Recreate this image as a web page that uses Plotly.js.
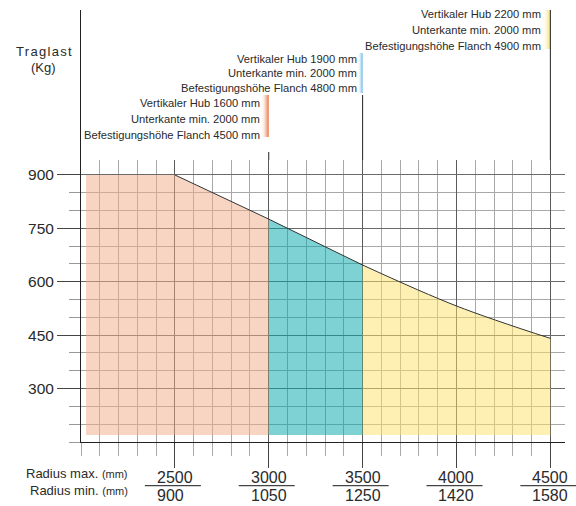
<!DOCTYPE html>
<html><head><meta charset="utf-8">
<script src="https://cdn.plot.ly/plotly-3.0.1.min.js"></script>
<style>html,body{margin:0;padding:0;background:#fff}#chart{width:576px;height:506px}</style>
</head><body><div id="chart"></div>
<script>
// ---- data ----
const radiusMax = [2500, 3000, 3500, 4000, 4500];
const radiusMin = [900, 1050, 1250, 1420, 1580];
const loadX = [2500, 3000, 3500, 4000, 4500];
const loadY = [900, 776, 647, 532, 441];
const flatLoad = 900;
const yTickVals = [300, 450, 600, 750, 900];
const zoneEdges = [3000, 3500, 4500];
const zoneHub = [1600, 1900, 2200];
const zoneUnterkante = [2000, 2000, 2000];
const zoneFlansch = [4500, 4800, 4900];

// ---- styling / layout constants ----
const W = 576, H = 506;
const FONT = 'Liberation Sans, Arial, Helvetica, sans-serif';
const TXT = '#2a2a2a';
const plotL = 81, plotR = 565, plotTop = 160, plotBot = 442, topAreaTop = 10;
const xRange = [2000, 4578];
const yRange = [150, 942];
const pxPerMm = (plotR - plotL) / (xRange[1] - xRange[0]);
const mm = px => px / pxPerMm;
const fillStart = xRange[0] + mm(5);
const fillBase = 170;
const zoneFill = ['rgba(241,171,135,0.5)', 'rgba(0,165,169,0.5)', 'rgba(251,225,101,0.5)'];
const barColor = ['#e8703f', '#62b3e4', '#f5dc6c'];
const barWidthPx = [8, 5, 8.5];
const barBottom = [23, 67, 111];
const barTop = [65, 107, 150];
const leaderTop = [8, 65, 150];
const textTop = [57.5, 101.5, 145.5];
const textStep = [16, 14.5, 15.75];

const xDomain = [plotL / W, plotR / W];
const yDomain = [(H - plotBot) / H, (H - plotTop) / H];
const y2Domain = [(H - plotTop) / H, (H - topAreaTop) / H];
const y3Domain = [0, (H - plotBot) / H];
const x2Range = [xRange[0] - mm(plotL), xRange[0] + mm(W - plotL)];

const traces = [];
// zones 1 and 2 (straight segments) as polygons
const starts = [fillStart, zoneEdges[0]];
for (let i = 0; i < 2; i++) {
  const lo = starts[i], hi = zoneEdges[i];
  const xs = [lo], ys = [fillBase];
  if (lo < loadX[0]) { xs.push(lo); ys.push(flatLoad); }
  loadX.forEach((x, k) => { if (x >= lo && x <= hi) { xs.push(x); ys.push(loadY[k]); } });
  xs.push(hi); ys.push(fillBase);
  traces.push({type: 'scatter', mode: 'lines', x: xs, y: ys, fill: 'toself',
    fillcolor: zoneFill[i], line: {width: 0}, hoverinfo: 'skip', xaxis: 'x', yaxis: 'y'});
}
// zone 3 (curved top) : base line + smooth curve filled to it
const z3x = [], z3y = [];
loadX.forEach((x, k) => { if (x >= zoneEdges[1] && x <= zoneEdges[2]) { z3x.push(x); z3y.push(loadY[k]); } });
traces.push({type: 'scatter', mode: 'lines', x: [zoneEdges[1], zoneEdges[2]], y: [fillBase, fillBase],
  line: {width: 0}, hoverinfo: 'skip', xaxis: 'x', yaxis: 'y'});
traces.push({type: 'scatter', mode: 'lines', x: z3x, y: z3y, fill: 'tonexty', fillcolor: zoneFill[2],
  line: {color: '#333', width: 1, shape: 'spline', smoothing: 1}, hoverinfo: 'skip', xaxis: 'x', yaxis: 'y'});
// straight part of load curve
const c1x = [], c1y = [];
loadX.forEach((x, k) => { if (x <= zoneEdges[1]) { c1x.push(x); c1y.push(loadY[k]); } });
traces.push({type: 'scatter', mode: 'lines', x: c1x, y: c1y,
  line: {color: '#333', width: 1}, hoverinfo: 'skip', xaxis: 'x', yaxis: 'y'});

// top area: gradient bars & leader lines
const annotations = [];
for (let i = 0; i < 3; i++) {
  const e = zoneEdges[i], w = mm(barWidthPx[i]);
  traces.push({type: 'scatter', mode: 'lines', x: [e - w, e, e, e - w, e - w],
    y: [barBottom[i], barBottom[i], barTop[i], barTop[i], barBottom[i]], fill: 'toself',
    fillgradient: {type: 'horizontal', colorscale: [[0, 'rgba(255,255,255,0)'], [1, barColor[i]]]},
    line: {width: 0}, hoverinfo: 'skip', xaxis: 'x3', yaxis: 'y2'});
  traces.push({type: 'scatter', mode: 'lines', x: [e, e], y: [0, leaderTop[i]],
    line: {color: '#222', width: 1}, hoverinfo: 'skip', xaxis: 'x3', yaxis: 'y2'});
  const lines = ['Vertikaler Hub ' + zoneHub[i] + ' mm',
                 'Unterkante min. ' + zoneUnterkante[i] + ' mm',
                 'Befestigungshöhe Flanch ' + zoneFlansch[i] + ' mm'];
  lines.forEach((t, k) => annotations.push({text: t, x: e - w, xref: 'x3', y: textTop[i] - k * textStep[i], yref: 'y2',
    xanchor: 'right', yanchor: 'middle', showarrow: false, xshift: 1, font: {family: FONT, size: 11.2, color: TXT}}));
}

// bottom labels: fraction lines
const fx = [], fy = [];
radiusMax.forEach(v => { fx.push(v - mm(30), v + mm(26), null); fy.push(20.3, 20.3, null); });
traces.push({type: 'scatter', mode: 'lines', x: fx, y: fy, line: {color: '#444', width: 1.3},
  hoverinfo: 'skip', xaxis: 'x2', yaxis: 'y3'});
radiusMax.forEach((v, i) => {
  annotations.push({text: String(v), x: v, xref: 'x2', y: 28.3, yref: 'y3', xanchor: 'left', xshift: -20,
    yanchor: 'middle', showarrow: false, font: {family: FONT, size: 16, color: TXT}});
  annotations.push({text: String(radiusMin[i]), x: v, xref: 'x2', y: 10.7, yref: 'y3', xanchor: 'left', xshift: -20,
    yanchor: 'middle', showarrow: false, font: {family: FONT, size: 16, color: TXT}});
});
annotations.push({text: 'Radius max. <span style="font-size:11px">(mm)</span>', x: 130 / W, xref: 'paper', y: (H - 473.5) / H, yref: 'paper',
  xanchor: 'right', yanchor: 'middle', showarrow: false, font: {family: FONT, size: 13, color: TXT}});
annotations.push({text: 'Radius min. <span style="font-size:11px">(mm)</span>', x: 130 / W, xref: 'paper', y: (H - 490.5) / H, yref: 'paper',
  xanchor: 'right', yanchor: 'middle', showarrow: false, font: {family: FONT, size: 13, color: TXT}});
annotations.push({text: '<span style="letter-spacing:1.3px">Traglast</span>', x: 44 / W, xref: 'paper', y: (H - 52) / H, yref: 'paper',
  xanchor: 'center', yanchor: 'middle', showarrow: false, font: {family: FONT, size: 13, color: TXT}});
annotations.push({text: '(Kg)', x: 43.5 / W, xref: 'paper', y: (H - 67.5) / H, yref: 'paper',
  xanchor: 'center', yanchor: 'middle', showarrow: false, font: {family: FONT, size: 13, color: TXT}});

const layout = {
  width: W, height: H, margin: {l: 0, r: 0, t: 0, b: 0, pad: 0},
  paper_bgcolor: '#fff', plot_bgcolor: 'rgba(0,0,0,0)', showlegend: false,
  font: {family: FONT, color: TXT},
  xaxis: {domain: xDomain, range: xRange, anchor: 'y', tickmode: 'array', tickvals: radiusMax,
    showticklabels: false, ticks: 'outside', ticklen: 25, tickcolor: '#444', tickwidth: 1,
    showgrid: true, gridcolor: '#5a5a5a', gridwidth: 1, zeroline: false,
    showline: true, linecolor: '#222', linewidth: 1,
    minor: {tick0: 2000, dtick: 100, ticks: 'outside', ticklen: 13, tickcolor: '#aaa', showgrid: true, gridcolor: '#a8a8a8', gridwidth: 1}},
  yaxis: {domain: yDomain, range: yRange, anchor: 'x', tickmode: 'array', tickvals: yTickVals,
    ticks: 'outside', ticklen: 23, tickcolor: '#444', tickwidth: 1,
    tickfont: {family: FONT, size: 15.5, color: TXT},
    showgrid: true, gridcolor: '#6a6a6a', gridwidth: 1, zeroline: false,
    showline: true, linecolor: '#222', linewidth: 1,
    minor: {tick0: 150, dtick: 50, ticks: 'outside', ticklen: 11, tickcolor: '#999', showgrid: true, gridcolor: '#a8a8a8', gridwidth: 1}},
  xaxis3: {domain: xDomain, range: xRange, anchor: 'y2', visible: false},
  yaxis2: {domain: y2Domain, range: [0, 150], anchor: 'x3', showline: true, linecolor: '#222', linewidth: 1,
    showgrid: false, zeroline: false, showticklabels: false, ticks: ''},
  xaxis2: {domain: [0, 1], range: x2Range, anchor: 'y3', visible: false},
  yaxis3: {domain: y3Domain, range: [0, H - plotBot], anchor: 'x2', visible: false},
  annotations: annotations
};

Plotly.newPlot('chart', traces, layout, {staticPlot: true, displayModeBar: false});
</script>
</body></html>
